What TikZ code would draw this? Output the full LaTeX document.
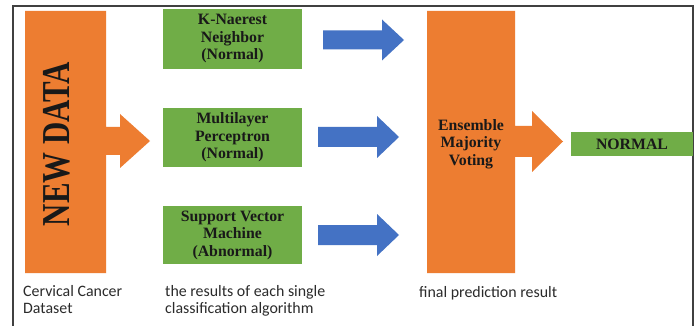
\documentclass[tikz,border=0pt]{standalone}
\usepackage{fontspec}
\setmainfont{Liberation Serif}
\newfontfamily\capfont{Carlito}
\definecolor{myorange}{HTML}{ED7D31}
\definecolor{mygreen}{HTML}{70AD47}
\definecolor{myblue}{HTML}{4472C4}
\definecolor{frameclr}{HTML}{404040}
\definecolor{captext}{HTML}{2B2B2B}
\begin{document}
\begin{tikzpicture}[x=1pt,y=-1pt,
  boxtext/.style={font=\fontsize{15.8}{17.5}\selectfont\bfseries, align=center, text=black!90},
  greenbox/.style={fill=mygreen, draw=none, inner sep=0pt},
  orangeshape/.style={fill=myorange, draw=none},
  bluearrow/.style={fill=myblue, draw=none},
  caption/.style={font=\capfont\fontsize{15.9}{17.5}\selectfont, text=captext, anchor=base west, inner sep=0pt, align=left}]
\useasboundingbox (0,0) rectangle (699,326);
\fill[white] (0,0) rectangle (699,326);
\draw[frameclr, line width=1.5pt] (13,326) -- (13,6) -- (693,6) -- (693,326);

% New data block with arrow
\fill[orangeshape] (25,11) -- (106,11) -- (106,127) -- (120,127) -- (120,114) -- (150,141) -- (120,168) -- (120,155) -- (106,155) -- (106,273) -- (25,273) -- cycle;
\node[rotate=90, inner sep=0pt, font=\fontsize{30.9}{31}\selectfont\bfseries, text=black!90] (newdata) at (56.5,144) {\scalebox{1}[1.28]{NEW DATA}};

% classifiers
\node[greenbox, minimum width=139pt, minimum height=60pt, boxtext] (knn) at (232.5,39) {K-Naerest\\Neighbor\\(Normal)};
\node[greenbox, minimum width=139pt, minimum height=59pt, boxtext] (mlp) at (232.5,137.5) {Multilayer\\Perceptron\\(Normal)};
\node[greenbox, minimum width=139pt, minimum height=58pt, boxtext] (svm) at (232.5,235) {Support Vector\\Machine\\(Abnormal)};

% blue arrows
\fill[bluearrow] (323,30.5) -- (382,30.5) -- (382,19.5) -- (404,40) -- (382,60.5) -- (382,49.5) -- (323,49.5) -- cycle;
\fill[bluearrow] (318,127) -- (377,127) -- (377,116) -- (399,137) -- (377,158) -- (377,147) -- (318,147) -- cycle;
\fill[bluearrow] (318,225) -- (377,225) -- (377,214) -- (399,235) -- (377,256) -- (377,245) -- (318,245) -- cycle;

% ensemble block with arrow
\fill[orangeshape] (427,11) -- (515,11) -- (515,126) -- (532,126) -- (532,111) -- (563,141.5) -- (532,172) -- (532,157) -- (515,157) -- (515,273) -- (427,273) -- cycle;
\node[boxtext, inner sep=0pt] (ens) at (471,144) {Ensemble\\Majority\\Voting};

% result
\node[greenbox, minimum width=122pt, minimum height=24pt, boxtext] (result) at (632,144) {NORMAL};

% captions
\node[caption] (cap1) at (23,296) {Cervical Cancer};
\node[caption] (cap1b) at (23,313.5) {Dataset};
\node[caption] (cap2) at (165,296) {the results of each single};
\node[caption] (cap2b) at (165,313.5) {classification algorithm};
\node[caption] (cap3) at (419,297) {final prediction result};
\end{tikzpicture}
\end{document}
